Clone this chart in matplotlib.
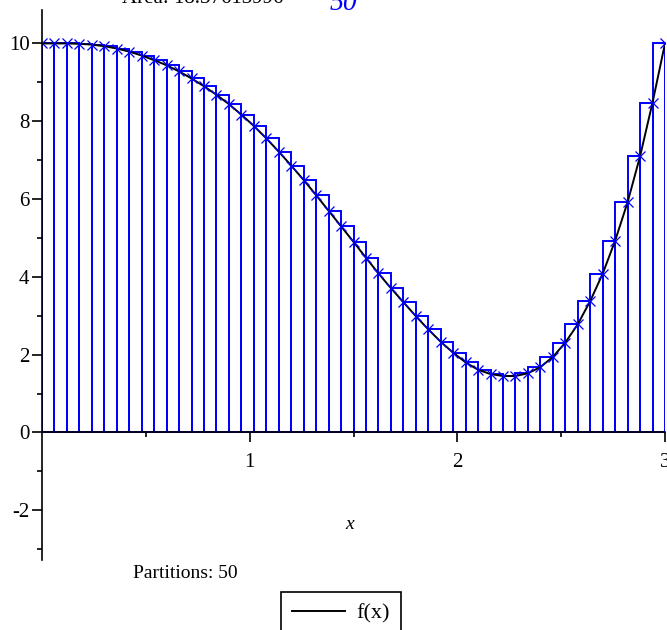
import numpy as np
import matplotlib
matplotlib.use("Agg")
import matplotlib.pyplot as plt
from matplotlib.ticker import FixedLocator

plt.rcParams['font.family'] = ['Liberation Serif', 'DejaVu Serif']

# partition points on [0, 3], 50 partitions
x_nodes = np.linspace(0, 3, 51)
f_nodes = [10.00, 10.00, 10.00, 9.99, 9.97, 9.93, 9.87, 9.79, 9.69, 9.57,
           9.44, 9.28, 9.10, 8.90, 8.68, 8.44, 8.17, 7.88, 7.56, 7.22,
           6.86, 6.49, 6.10, 5.70, 5.30, 4.90, 4.49, 4.09, 3.71, 3.35,
           2.99, 2.65, 2.33, 2.05, 1.80, 1.61, 1.50, 1.45, 1.45, 1.52,
           1.68, 1.94, 2.31, 2.78, 3.38, 4.08, 4.93, 5.92, 7.10, 8.48,
           10.00]
# upper sum rectangles
bar_heights = [10.00, 10.00, 10.00, 9.99, 9.97, 9.93, 9.87, 9.79, 9.69, 9.57,
               9.44, 9.28, 9.10, 8.90, 8.68, 8.44, 8.17, 7.88, 7.56, 7.22,
               6.86, 6.49, 6.10, 5.70, 5.30, 4.90, 4.49, 4.09, 3.71, 3.35,
               2.99, 2.65, 2.33, 2.05, 1.80, 1.61, 1.50, 1.45, 1.52, 1.68,
               1.94, 2.31, 2.78, 3.38, 4.08, 4.93, 5.92, 7.10, 8.48, 10.00]
x_major = [1, 2, 3]
x_minor = [0.5, 1.5, 2.5]
y_major = [-2, 0, 2, 4, 6, 8, 10]
y_minor = [-3, -1, 1, 3, 5, 7, 9]

fig = plt.figure(figsize=(6.67, 6.3), dpi=100)
ax = fig.add_axes([42/667, 70/630, 623/667, 550/630])

ax.bar(x_nodes[:-1], bar_heights, width=3/50, align='edge', fill=False,
       edgecolor='#0000ff', linewidth=1.4, zorder=2)
ax.plot(x_nodes, f_nodes, color='black', linewidth=1.4, zorder=3, label='f(x)')
ax.plot(x_nodes, f_nodes, linestyle='none', marker='x', markersize=7,
        markeredgewidth=0.9, color='#0000ff', zorder=4)

ax.set_xlim(0, 3)
ax.set_ylim(-3.28, 10.86)

for s in ['top', 'right']:
    ax.spines[s].set_visible(False)
ax.spines['bottom'].set_position(('data', 0))
ax.spines['left'].set_position(('data', 0))
for s in ['bottom', 'left']:
    ax.spines[s].set_linewidth(1.2)
    ax.spines[s].set_zorder(5)

ax.xaxis.set_major_locator(FixedLocator(x_major))
ax.xaxis.set_minor_locator(FixedLocator(x_minor))
ax.yaxis.set_major_locator(FixedLocator(y_major))
ax.yaxis.set_minor_locator(FixedLocator(y_minor))
ax.set_xticklabels([str(v) for v in x_major])
ax.set_yticklabels([str(v) for v in y_major])
ax.tick_params(which='major', direction='out', length=7, width=1.2, labelsize=15)
ax.tick_params(axis='x', which='major', pad=8)
ax.tick_params(axis='y', which='major', pad=2)
ax.tick_params(which='minor', direction='out', length=3.5, width=1.2)

ax.text(1.48, -2.38, 'x', style='italic', fontsize=14, ha='center', va='center')

fig.text(122/667, 1 - 3/630, 'Area: 18.37613996', fontsize=15, va='baseline')
fig.text(330/667, 1 - 10/630, '50', fontsize=20, style='italic', color='#0000ff',
         va='baseline')
fig.text(133/667, 1 - 573/630, 'Partitions: 50', fontsize=14, va='center')

fig.legend(loc='upper left', bbox_to_anchor=(281/667, 1 - 592/630),
           fontsize=16, frameon=True, fancybox=False, edgecolor='black',
           handlelength=2.4, handletextpad=0.5, borderaxespad=0, borderpad=0.5,
           framealpha=1)
fig.legends[0].get_frame().set_linewidth(1.2)

fig.savefig('out.png', dpi=100)
